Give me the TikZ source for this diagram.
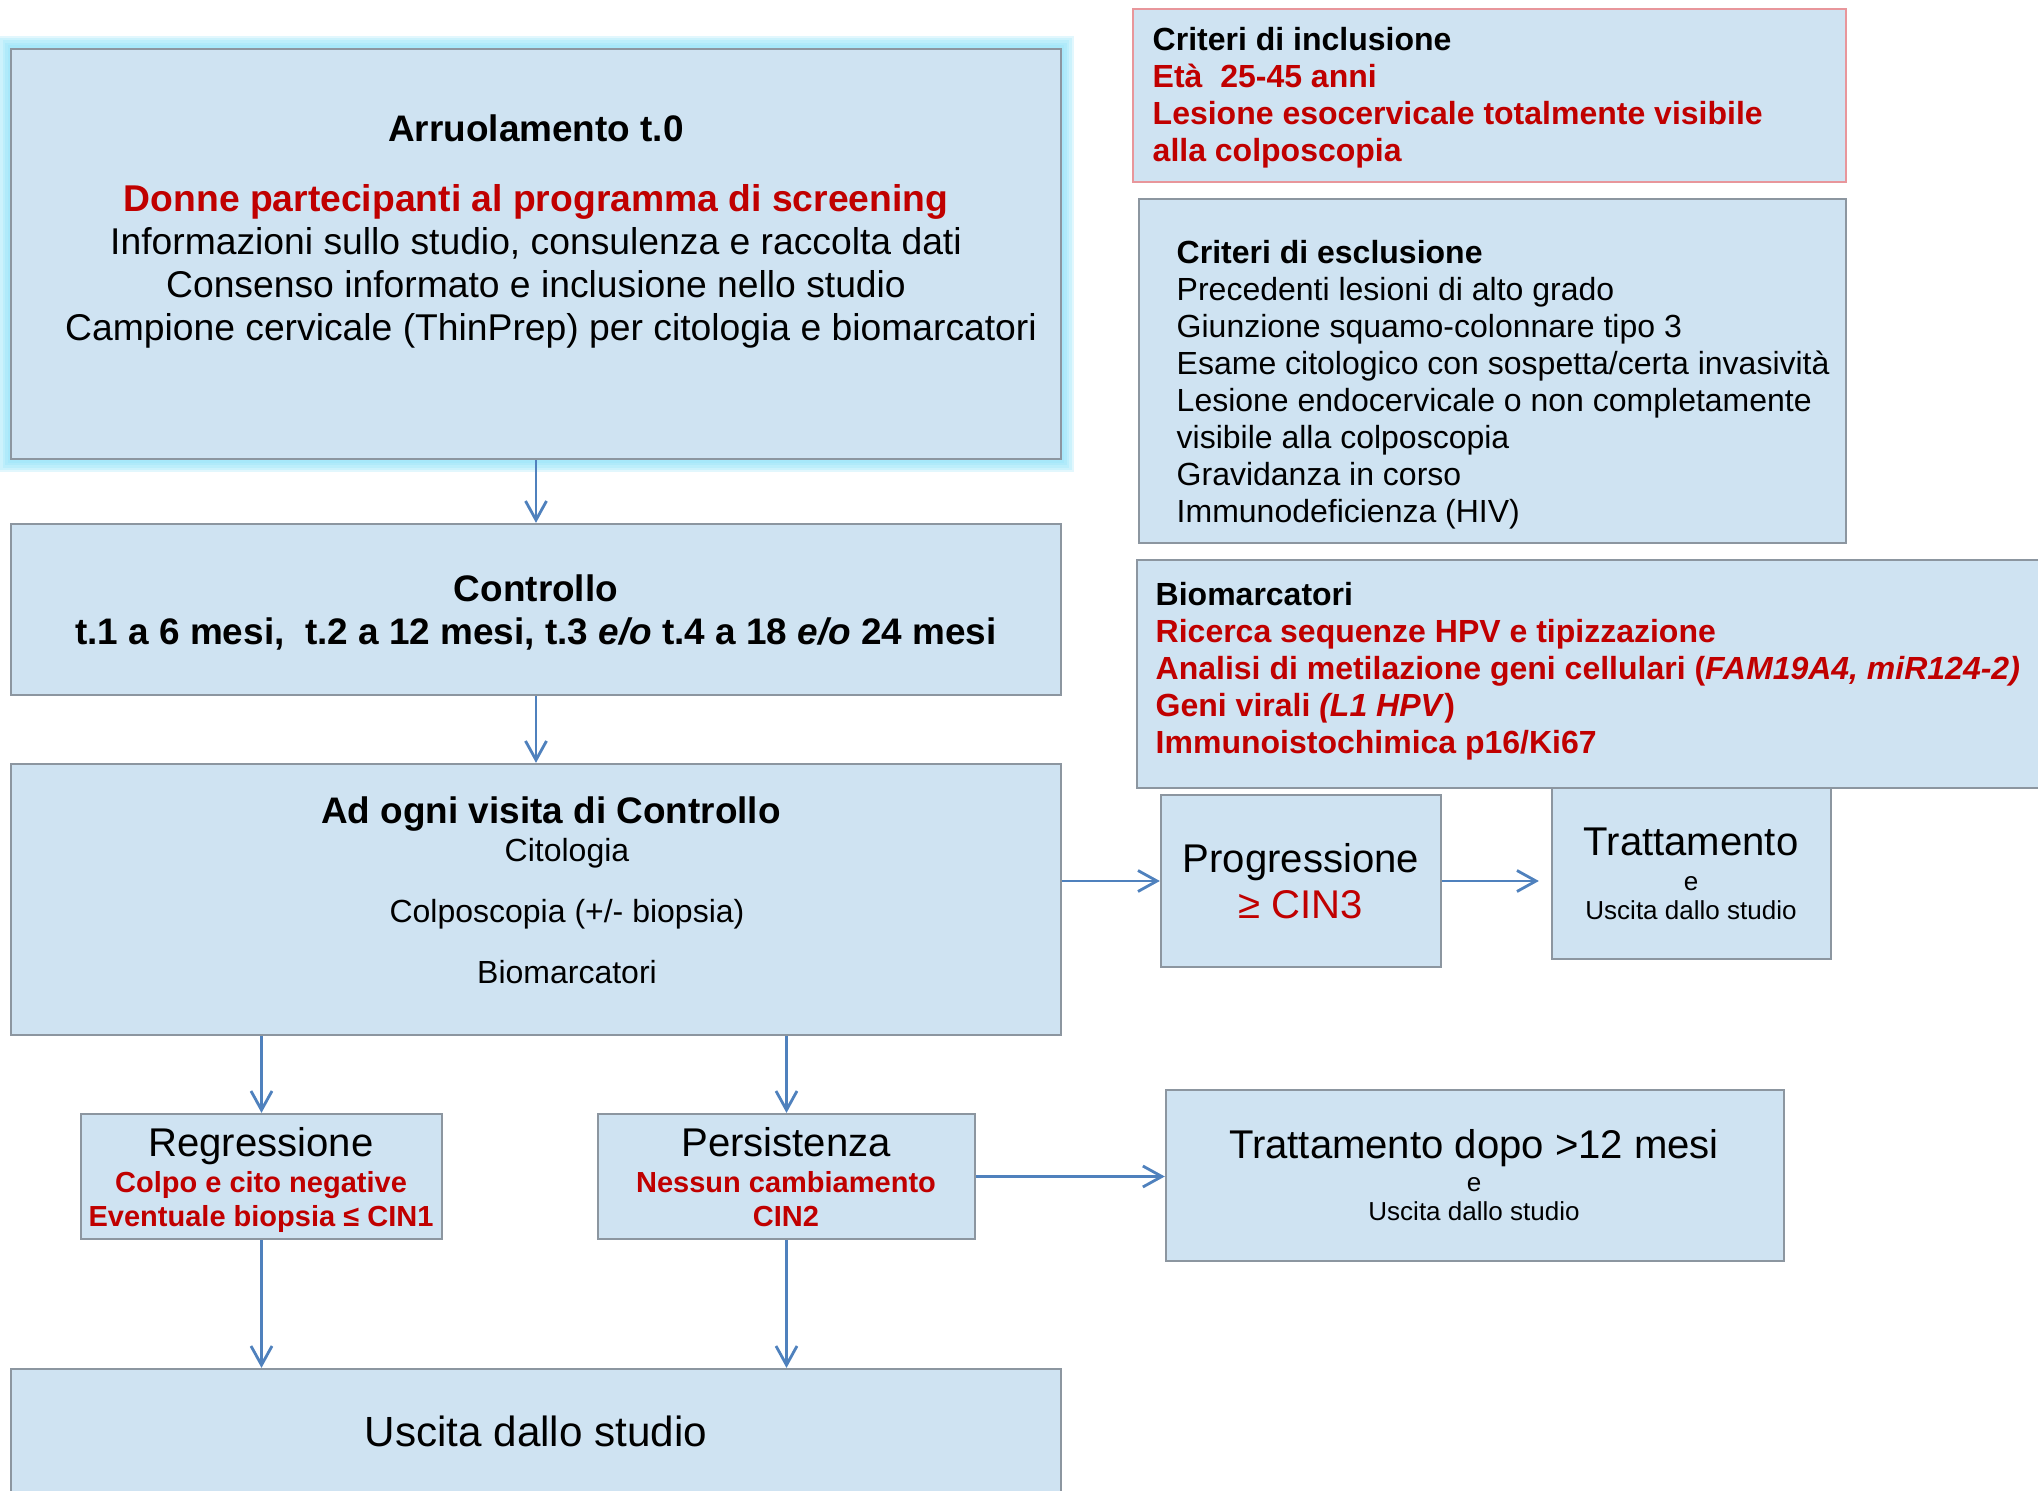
\documentclass[tikz,border=0pt]{standalone}
\usepackage{fontspec}
\setmainfont{Liberation Sans}
\usepackage{tikz}
\usetikzlibrary{arrows.meta,backgrounds}

\definecolor{boxfill}{RGB}{207,227,242}
\definecolor{boxline}{RGB}{140,150,160}
\definecolor{inclline}{RGB}{232,150,155}
\definecolor{redtxt}{RGB}{192,0,0}
\definecolor{arrowblue}{RGB}{79,129,189}
\definecolor{glowcyan}{RGB}{140,225,248}

\begin{document}
\begin{tikzpicture}[x=0.01cm, y=-0.01cm, every node/.style={inner sep=0pt},
  box/.style={draw=boxline, fill=boxfill, line width=0.6pt},
  flow/.style={draw=arrowblue, line width=0.8pt, -{Straight Barb[length=1.9mm,width=2.1mm]}},
  big/.style={font=\fontsize{10.6}{12.2}\selectfont},
  bigbold/.style={font=\fontsize{10.5}{12.2}\selectfont\bfseries},
  mid/.style={font=\fontsize{9.1}{10.5}\selectfont},
  midbold/.style={font=\fontsize{9.1}{10.5}\selectfont\bfseries},
  head/.style={font=\fontsize{11.4}{13.1}\selectfont},
  small/.style={font=\fontsize{7.4}{8.3}\selectfont},
  redbold/.style={font=\fontsize{8.25}{9.7}\selectfont\bfseries, text=redtxt}]

\useasboundingbox (0,0) rectangle (2038,1491);
\clip (0,0) rectangle (2038,1491);

% boxes
\node[box, minimum width=10.49cm, minimum height=4.10cm] (arr) at (536,254) {};
\node[box, minimum width=10.49cm, minimum height=1.71cm] (ctl) at (536,609.5) {};
\node[box, minimum width=10.49cm, minimum height=2.71cm] (visit) at (536,899.5) {};
\node[box, minimum width=10.49cm, minimum height=1.27cm] (usc) at (536,1432.5) {};
\node[box, draw=inclline, minimum width=7.13cm, minimum height=1.73cm] (incl) at (1489.5,95.5) {};
\node[box, minimum width=7.07cm, minimum height=3.44cm] (excl) at (1492.5,371) {};
\node[box, minimum width=9.20cm, minimum height=2.28cm] (bio) at (1597,674) {};
\node[box, minimum width=2.80cm, minimum height=1.72cm] (prog) at (1301,881) {};
\node[box, minimum width=2.79cm, minimum height=1.71cm] (tratt) at (1691.5,873.5) {};
\node[box, minimum width=3.61cm, minimum height=1.25cm] (regr) at (261.5,1176.5) {};
\node[box, minimum width=3.77cm, minimum height=1.25cm] (pers) at (786.5,1176.5) {};
\node[box, minimum width=6.18cm, minimum height=1.71cm] (tdopo) at (1475,1175.5) {};

\begin{scope}[on background layer]
\foreach \w in {7,5.6,4.2,2.8,1.4}
  \draw[glowcyan, opacity=0.25, line width=\w pt] (arr.north west) rectangle (arr.south east);
\end{scope}

% texts
\node[bigbold, anchor=north] (arrtitle) at (536,114) {Arruolamento t.0};
\node[big, anchor=north, align=center] (arrtext) at (536,184)
  {\textcolor{redtxt}{\bfseries Donne partecipanti al programma di screening}\\
   Informazioni sullo studio, consulenza e raccolta dati\\
   Consenso informato e inclusione nello studio\\
   \hspace{0.3cm}Campione cervicale (ThinPrep) per citologia e biomarcatori};

\node[bigbold, anchor=north, align=center] (ctltext) at (536,574)
  {Controllo\\ t.1 a 6 mesi,~ t.2 a 12 mesi, t.3 \textit{e/o} t.4 a 18 \textit{e/o} 24 mesi};

\node[bigbold, anchor=north] (visittitle) at (551,796) {Ad ogni visita di Controllo};
\node[anchor=north, align=center, font=\fontsize{9.1}{17.35}\selectfont] (visititems) at (567,838)
  {Citologia\\ Colposcopia (+/- biopsia)\\ Biomarcatori};

\node[midbold, anchor=north west, align=left] (incltext) at (1152,27)
  {Criteri di inclusione\\
   \textcolor{redtxt}{Età~ 25-45 anni}\\
   \textcolor{redtxt}{Lesione esocervicale totalmente visibile}\\
   \textcolor{redtxt}{alla colposcopia}};

\node[mid, anchor=north west, align=left] (excltext) at (1176,240)
  {\textbf{Criteri di esclusione}\\
   Precedenti lesioni di alto grado\\
   Giunzione squamo-colonnare tipo 3\\
   Esame citologico con sospetta/certa invasività\\
   Lesione endocervicale o non completamente\\
   visibile alla colposcopia\\
   Gravidanza in corso\\
   Immunodeficienza (HIV)};

\node[midbold, anchor=north west, align=left] (biotext) at (1155,582)
  {Biomarcatori\\
   \textcolor{redtxt}{Ricerca sequenze HPV e tipizzazione}\\
   \textcolor{redtxt}{Analisi di metilazione geni cellulari (\textit{FAM19A4, miR124-2)}}\\
   \textcolor{redtxt}{Geni virali \textit{(L1 HPV})}\\
   \textcolor{redtxt}{Immunoistochimica p16/Ki67}};

\node[head, anchor=north, align=center] (progtext) at (1301,843)
  {Progressione\\ \textcolor{redtxt}{≥ CIN3}};

\node[head, anchor=north] (tratttitle) at (1691,827) {Trattamento};
\node[small, anchor=north, align=center] (trattsub) at (1691,876) {e\\ Uscita dallo studio};

\node[head, anchor=north] (regrtitle) at (261,1127) {Regressione};
\node[redbold, anchor=north, align=center] (regrtext) at (261,1171)
  {Colpo e cito negative\\ Eventuale biopsia ≤ CIN1};

\node[head, anchor=north] (perstitle) at (786,1127) {Persistenza};
\node[redbold, anchor=north, align=center] (perstext) at (786,1171)
  {Nessun cambiamento\\ CIN2};

\node[head, anchor=north] (tdopotitle) at (1474,1129) {Trattamento dopo >12 mesi};
\node[small, anchor=north, align=center] (tdoposub) at (1474,1177) {e\\ Uscita dallo studio};

\node[font=\fontsize{12}{14}\selectfont, anchor=north] (usctext) at (536,1415) {Uscita dallo studio};

% arrows
\draw[flow] (arr.south) -- (ctl.north);
\draw[flow] (ctl.south) -- (visit.north);
\draw[flow] (prog.west -| visit.east) -- (prog.west);
\draw[flow, shorten >=0.12cm] (prog.east) -- (prog.east -| tratt.west);
\draw[flow] (visit.south -| regr.north) -- (regr.north);
\draw[flow] (visit.south -| pers.north) -- (pers.north);
\draw[flow] (regr.south) -- (regr.south |- usc.north);
\draw[flow] (pers.south) -- (pers.south |- usc.north);
\draw[flow] (pers.east) -- (pers.east -| tdopo.west);

\end{tikzpicture}
\end{document}
